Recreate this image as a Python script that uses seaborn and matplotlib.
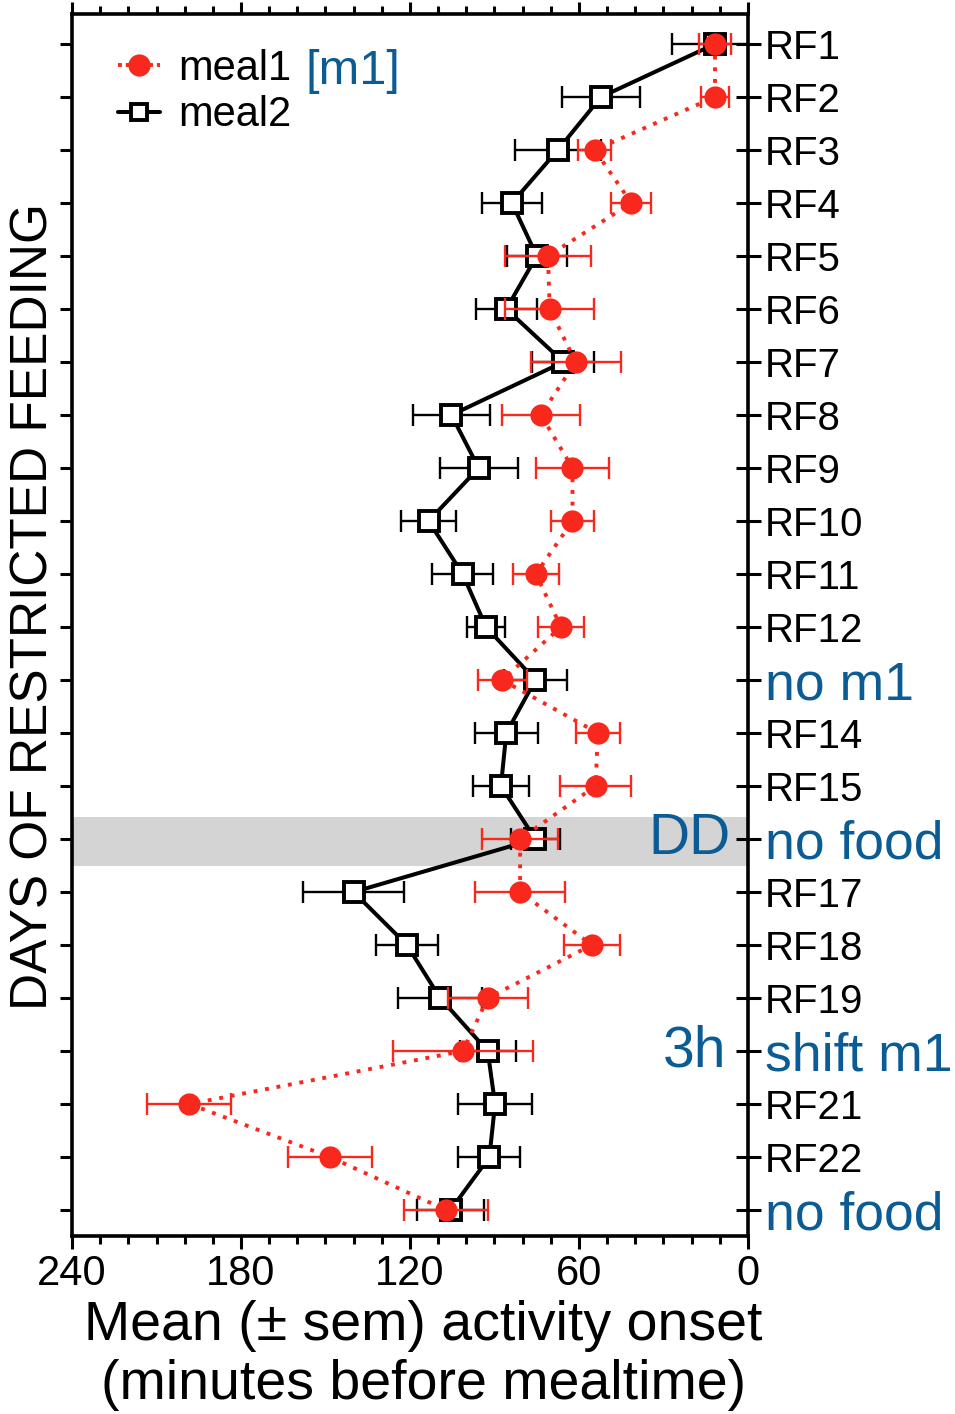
import matplotlib
matplotlib.use("Agg")
import matplotlib.pyplot as plt
from matplotlib.lines import Line2D
import seaborn as sns
import numpy as np

# row labels (top to bottom)
day_labels = ["RF1", "RF2", "RF3", "RF4", "RF5", "RF6", "RF7", "RF8", "RF9",
              "RF10", "RF11", "RF12", "no m1", "RF14", "RF15", "no food",
              "RF17", "RF18", "RF19", "shift m1", "RF21", "RF22", "no food"]
blue_labels = ["no m1", "no food", "shift m1"]

# minutes before mealtime
meal1_mean = [11.7, 11.7, 54.4, 41.4, 71.0, 70.4, 61.2, 73.5, 62.3, 62.3, 75.3,
              66.4, 87.3, 53.3, 54.1, 80.9, 80.9, 55.4, 92.4, 101.2, 198.3,
              148.4, 107.2]
meal1_sem = [5.6, 5.1, 5.9, 7.1, 15.1, 15.8, 16.0, 13.8, 12.8, 7.8, 8.1, 8.1,
             8.7, 7.9, 12.6, 13.6, 16.0, 9.8, 14.2, 24.9, 14.9, 14.9, 14.9]
meal2_mean = [11.7, 52.2, 67.5, 83.8, 75.0, 85.8, 65.5, 105.3, 95.6, 113.4,
              101.3, 93.0, 75.5, 85.8, 87.7, 75.5, 140.0, 121.1, 109.3, 92.4,
              89.8, 91.8, 105.6]
meal2_sem = [15.4, 13.8, 15.2, 10.8, 10.6, 10.8, 11.0, 13.8, 13.8, 9.7, 10.8,
             6.9, 11.1, 11.1, 9.9, 8.7, 17.9, 11.0, 14.9, 9.9, 13.0, 11.0, 11.9]

RED = "#f8291c"
BLUE = "#0b5c94"

sns.set_style("ticks")
plt.rcParams["font.family"] = ["Liberation Sans", "DejaVu Sans"]
plt.rcParams.update({"text.color": "black", "axes.labelcolor": "black",
                     "xtick.color": "black", "ytick.color": "black",
                     "axes.edgecolor": "black"})

fig = plt.figure(figsize=(9.55, 14.14), dpi=100)
ax = fig.add_axes([0.0754, 0.1259, 0.7078, 0.8642])

rows = np.arange(len(day_labels))

# DD band
ax.axhspan(14.585, 15.51, color="#d4d4d4", zorder=0, lw=0)

# meal2
ax.errorbar(meal2_mean, rows, xerr=meal2_sem, fmt="none", ecolor="black",
            elinewidth=1.7, capsize=8, capthick=1.7, zorder=2)
sns.lineplot(x=meal2_mean, y=rows, orient="y", sort=False, estimator=None,
             color="black", lw=2.9, marker="s", markersize=14,
             markerfacecolor="white", markeredgecolor="black",
             markeredgewidth=2.8, ax=ax, zorder=3)

# meal1
ax.errorbar(meal1_mean, rows, xerr=meal1_sem, fmt="none", ecolor=RED,
            elinewidth=1.7, capsize=8, capthick=1.7, zorder=4)
sns.lineplot(x=meal1_mean, y=rows, orient="y", sort=False, estimator=None,
             color=RED, lw=2.8, linestyle=(0, (1, 2)), marker="o",
             markersize=16, markeredgewidth=0, ax=ax, zorder=5)

ax.set_xlim(240, 0)
ax.set_ylim(22.49, -0.566)
ax.set_xticks([240, 180, 120, 60, 0])
ax.set_xticks(np.arange(0, 241, 10), minor=True)
ax.set_yticks(rows)
ax.set_yticklabels([])
ax.tick_params(axis="x", which="both", top=True, direction="out", width=2.2,
               labelsize=30, pad=4)
ax.tick_params(axis="x", which="major", length=9)
ax.tick_params(axis="x", which="minor", length=6)
ax.tick_params(axis="y", left=True, right=False, direction="out", length=9,
               width=2.2)
for s in ax.spines.values():
    s.set_linewidth(2.6)
    s.set_visible(True)

# right side labels
ax2 = ax.twinx()
ax2.set_ylim(ax.get_ylim())
ax2.set_yticks(rows)
ax2.set_yticklabels(day_labels)
ax2.tick_params(axis="y", direction="inout", length=18, width=2.2, pad=3)
for lab in ax2.get_yticklabels():
    if lab.get_text() in blue_labels:
        lab.set_color(BLUE)
        lab.set_fontsize(38.5)
    else:
        lab.set_fontsize(29)
for s in ax2.spines.values():
    s.set_visible(False)

ax.text(0.975, 15, "DD", transform=ax.get_yaxis_transform(), ha="right",
        va="center", fontsize=41, color=BLUE)
ax.text(0.968, 19, "3h", transform=ax.get_yaxis_transform(), ha="right",
        va="center", fontsize=41, color=BLUE)

ax.set_ylabel("DAYS OF RESTRICTED FEEDING", fontsize=37)
ax.yaxis.set_label_coords(-0.02, 0.515)
ax.set_xlabel("Mean (\u00b1 sem) activity onset\n(minutes before mealtime)",
              fontsize=40, linespacing=1.18)
ax.xaxis.set_label_coords(0.52, -0.052)

handles = [
    Line2D([0], [0], color=RED, lw=2.8, linestyle=(0, (1, 1)), marker="o",
           markersize=16, markeredgewidth=0),
    Line2D([0], [0], color="black", lw=2.9, marker="s", markersize=11,
           markerfacecolor="white", markeredgewidth=2.8),
]
ax.legend(handles, ["meal1", "meal2"], loc="upper left", frameon=False,
          fontsize=30, handlelength=1.0, handletextpad=0.45, labelspacing=0.15,
          bbox_to_anchor=(0.013, 1.002))
ax.text(0.345, 0.953, "[m1]", transform=ax.transAxes, fontsize=35,
        color=BLUE, va="center", ha="left")

fig.savefig("out.png", dpi=100)
